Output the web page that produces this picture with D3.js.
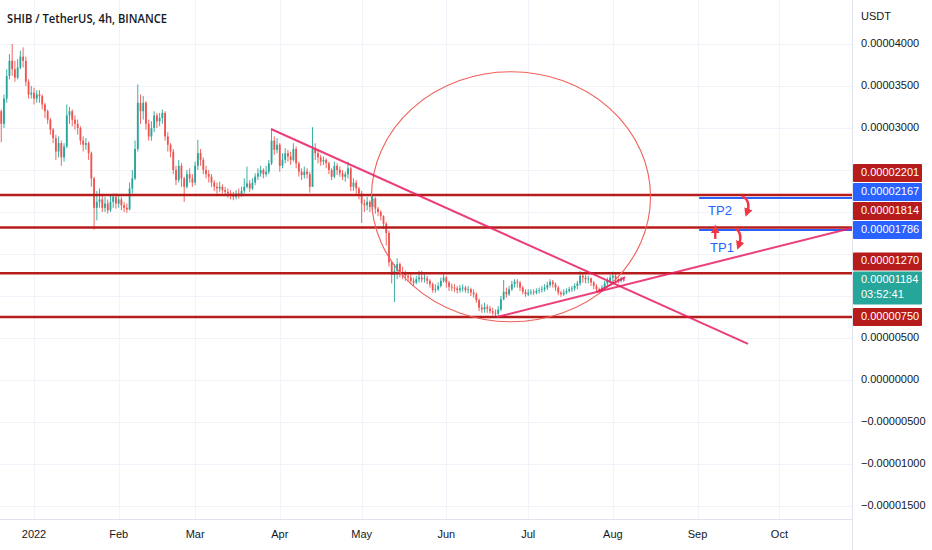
<!DOCTYPE html>
<html lang="en">
<head>
<meta charset="UTF-8">
<title>SHIB / TetherUS, 4h, BINANCE</title>
<script src="https://d3js.org/d3.v7.min.js"></script>
<style>
  body { margin: 0; background: #fff; }
  svg text { font-family: "Liberation Sans", Arial, sans-serif; }
  .title { font-family: "Open Sans", sans-serif; font-size: 13px; font-weight: 600; fill: #131722; }
</style>
</head>
<body>
<div id="chart"></div>
<script>
// daily candles, prices in units of 1e-5 USDT, first candle is 2021-12-19
const UNIT = 1e-5;
const firstDay = "2021-12-19";
const firstOpen = 3.15;
const closes = [
  3.20,3.05,3.35,3.62,3.80,3.70,3.60,3.72,3.85,3.80,
  3.55,3.40,3.42,3.35,3.40,3.38,3.28,3.20,3.10,2.98,
  2.88,2.72,2.82,2.65,2.78,3.15,3.20,3.10,3.05,3.00,
  2.85,2.80,2.82,2.70,2.40,2.05,2.12,2.15,2.05,2.10,
  2.02,2.12,2.18,2.10,2.15,2.08,2.05,2.03,2.28,2.40,
  2.75,3.30,3.20,3.30,3.05,2.90,3.00,3.15,3.08,3.12,
  3.18,2.90,2.80,2.72,2.50,2.38,2.55,2.40,2.30,2.45,
  2.40,2.35,2.55,2.70,2.62,2.50,2.45,2.42,2.35,2.30,
  2.28,2.30,2.26,2.24,2.22,2.20,2.18,2.22,2.20,2.25,
  2.30,2.34,2.28,2.35,2.42,2.46,2.50,2.45,2.48,2.58,
  2.85,2.74,2.80,2.55,2.62,2.70,2.66,2.62,2.75,2.58,
  2.48,2.44,2.48,2.45,2.30,2.75,2.70,2.65,2.60,2.62,
  2.58,2.50,2.42,2.55,2.50,2.46,2.42,2.45,2.52,2.30,
  2.35,2.28,2.22,2.10,2.08,2.12,2.06,2.16,2.04,2.00,
  1.95,1.86,1.75,1.40,1.25,1.30,1.38,1.28,1.27,1.24,
  1.22,1.18,1.16,1.20,1.22,1.20,1.21,1.18,1.14,1.07,
  1.08,1.12,1.18,1.22,1.16,1.11,1.10,1.09,1.07,1.09,
  1.10,1.07,1.08,1.04,1.02,0.95,0.86,0.84,0.87,0.85,
  0.82,0.80,0.79,0.84,0.96,1.05,1.02,1.08,1.14,1.17,
  1.16,1.10,1.05,1.02,1.04,1.05,1.04,1.06,1.07,1.08,
  1.10,1.13,1.17,1.14,1.10,1.04,1.02,1.04,1.06,1.08,
  1.09,1.12,1.15,1.24,1.22,1.20,1.21,1.16,1.12,1.08,
  1.06,1.10,1.15,1.18,1.22,1.24,1.20,1.18,1.20,1.184
];
const highs = [
  3.28,3.22,3.40,3.70,3.88,4.00,3.80,3.82,3.92,3.96,
  3.85,3.58,3.50,3.48,3.45,3.45,3.40,3.30,3.22,3.12,
  3.00,2.92,2.90,2.85,2.82,3.28,3.25,3.22,3.15,3.10,
  3.02,2.90,2.88,2.84,2.72,2.42,2.25,2.28,2.20,2.18,
  2.15,2.20,2.22,2.22,2.20,2.18,2.12,2.10,2.35,2.50,
  2.85,3.52,3.40,3.38,3.32,3.10,3.08,3.20,3.18,3.18,
  3.22,3.20,2.95,2.82,2.75,2.55,2.62,2.58,2.42,2.50,
  2.52,2.45,2.60,2.86,2.75,2.65,2.55,2.50,2.45,2.38,
  2.35,2.36,2.33,2.30,2.28,2.26,2.24,2.26,2.28,2.30,
  2.40,2.54,2.38,2.40,2.46,2.52,2.55,2.52,2.55,2.62,
  2.98,2.90,2.88,2.82,2.70,2.76,2.74,2.72,2.82,2.78,
  2.60,2.52,2.54,2.52,2.48,3.01,2.82,2.74,2.68,2.66,
  2.64,2.60,2.52,2.60,2.58,2.54,2.50,2.48,2.60,2.54,
  2.40,2.38,2.30,2.25,2.15,2.18,2.14,2.20,2.18,2.06,
  2.02,1.96,1.88,1.78,1.42,1.38,1.45,1.40,1.35,1.30,
  1.28,1.26,1.22,1.24,1.30,1.30,1.26,1.24,1.20,1.16,
  1.14,1.16,1.22,1.26,1.24,1.18,1.15,1.14,1.12,1.13,
  1.14,1.12,1.12,1.10,1.08,1.04,0.97,0.90,0.92,0.90,
  0.88,0.86,0.84,0.88,1.00,1.19,1.10,1.12,1.18,1.20,
  1.20,1.18,1.12,1.08,1.08,1.08,1.08,1.09,1.10,1.12,
  1.14,1.17,1.20,1.19,1.16,1.12,1.06,1.08,1.09,1.11,
  1.12,1.15,1.18,1.30,1.28,1.25,1.24,1.22,1.18,1.14,
  1.10,1.13,1.18,1.22,1.25,1.29,1.27,1.22,1.23,1.22
];
const lows = [
  3.05,2.83,3.00,3.30,3.58,3.62,3.55,3.58,3.70,3.72,
  3.50,3.35,3.35,3.28,3.30,3.30,3.22,3.12,3.05,2.92,
  2.82,2.62,2.65,2.55,2.60,2.76,3.05,3.02,2.98,2.92,
  2.80,2.72,2.74,2.62,2.30,1.79,1.90,2.05,2.00,2.00,
  1.98,2.00,2.05,2.04,2.05,2.02,2.00,1.99,2.02,2.22,
  2.38,2.72,3.05,3.10,2.98,2.85,2.85,2.95,3.00,3.02,
  3.05,2.85,2.72,2.65,2.45,2.32,2.35,2.30,2.12,2.28,
  2.35,2.30,2.32,2.50,2.55,2.45,2.40,2.35,2.30,2.25,
  2.22,2.24,2.22,2.19,2.17,2.15,2.14,2.15,2.16,2.18,
  2.22,2.28,2.24,2.26,2.32,2.38,2.42,2.40,2.42,2.45,
  2.56,2.68,2.70,2.48,2.52,2.58,2.60,2.56,2.60,2.52,
  2.42,2.38,2.40,2.40,2.23,2.30,2.62,2.58,2.55,2.56,
  2.52,2.45,2.38,2.40,2.44,2.42,2.38,2.36,2.40,2.25,
  2.25,2.22,2.15,1.87,2.00,2.02,2.00,2.02,1.98,1.95,
  1.90,1.80,1.60,1.35,1.15,0.93,1.20,1.22,1.20,1.18,
  1.17,1.14,1.12,1.14,1.16,1.16,1.16,1.14,1.10,1.04,
  1.04,1.06,1.10,1.16,1.10,1.06,1.06,1.05,1.03,1.04,
  1.05,1.04,1.03,1.00,0.98,0.92,0.82,0.80,0.80,0.80,
  0.79,0.77,0.76,0.77,0.82,0.95,0.98,1.00,1.06,1.10,
  1.10,1.06,1.02,0.99,1.00,1.01,1.01,1.02,1.03,1.04,
  1.05,1.07,1.10,1.10,1.06,1.01,0.99,1.00,1.02,1.04,
  1.05,1.06,1.08,1.12,1.16,1.15,1.15,1.12,1.08,1.05,
  1.04,1.05,1.08,1.12,1.15,1.17,1.16,1.15,1.16,1.17
];

// horizontal levels
const redLevels = [2.201, 1.814, 1.270, 0.750];
const blueLevels = [2.167, 1.786];
const blueStart = "2022-09-01T14:00Z";
const lastPrice = 1.184;
const countdown = "03:52:41";

// axis ticks
const priceTicks = [4, 3.5, 3, 2.5, 2, 1.5, 1, 0.5, 0, -0.5, -1, -1.5];
const monthTicks = ["2022-01-01","2022-02-01","2022-03-01","2022-04-01","2022-05-01",
  "2022-06-01","2022-07-01","2022-08-01","2022-09-01","2022-10-01"];
const monthLabels = ["2022","Feb","Mar","Apr","May","Jun","Jul","Aug","Sep","Oct"];

// drawings (date, price)
const trendLines = [
  [["2022-03-28T19:00Z", 2.988], ["2022-09-19T12:00Z", 0.429]],
  [["2022-06-19T14:00Z", 0.750], ["2022-10-27T14:00Z", 1.810]],
  [["2022-07-26T05:00Z", 1.048], ["2022-08-05T12:00Z", 1.226]]
];
const ellipseBox = { left: "2022-05-04T14:00Z", right: "2022-08-14T19:00Z", top: 3.67, bottom: 0.694 };
const tpNotes = [["TP2", "2022-09-04T21:00Z", 1.96], ["TP1", "2022-09-05T14:00Z", 1.52]];
const curvedArrows = [
  [["2022-09-17T07:00Z", 2.19], ["2022-09-19T05:00Z", 2.00]],
  [["2022-09-14T19:00Z", 1.81], ["2022-09-16T05:00Z", 1.61]]
];
const upArrow = [["2022-09-07T12:00Z", 1.68], ["2022-09-07T12:00Z", 1.79]];

const W = 932, H = 550, plotW = 852, plotH = 519;
const fmt = v => d3.format(".8f")(v * UNIT).replace("-", "\u2212");

const x = d3.scaleUtc()
  .domain([new Date("2021-12-19T13:00Z"), new Date("2022-10-27T14:00Z")])
  .range([0, plotW]);
const y = d3.scaleLinear().domain([-1.655, 4.524]).range([plotH, 0]);

const t0 = new Date(firstDay + "T00:00Z");
const candles = closes.map((c, i) => ({
  date: d3.utcDay.offset(t0, i),
  o: i === 0 ? firstOpen : closes[i - 1],
  c: c, h: highs[i], l: lows[i]
}));

const svg = d3.select("#chart").append("svg")
  .attr("width", W).attr("height", H)
  .style("display", "block").style("background", "#fff");
const defs = svg.append("defs");

defs.append("clipPath").attr("id", "plot")
  .append("rect").attr("width", plotW).attr("height", plotH);

// grid
const grid = svg.append("g").attr("stroke", "#f0f3fa").attr("stroke-width", 1);
grid.selectAll("line.h").data(priceTicks).enter().append("line")
  .attr("x1", 0).attr("x2", plotW)
  .attr("y1", d => Math.round(y(d)) + 0.5).attr("y2", d => Math.round(y(d)) + 0.5);
grid.selectAll("line.v").data(monthTicks).enter().append("line")
  .attr("y1", 0).attr("y2", plotH)
  .attr("x1", d => Math.round(x(new Date(d))) + 0.5).attr("x2", d => Math.round(x(new Date(d))) + 0.5);

const plot = svg.append("g").attr("clip-path", "url(#plot)");

// candles
const up = "#26a69a", down = "#ef5350";
const cg = plot.append("g");
cg.selectAll("line").data(candles).enter().append("line")
  .attr("x1", d => x(d.date)).attr("x2", d => x(d.date))
  .attr("y1", d => y(Math.max(d.h, d.o, d.c))).attr("y2", d => y(Math.min(d.l, d.o, d.c)))
  .attr("stroke", d => d.c >= d.o ? up : down).attr("stroke-width", 0.9);
cg.selectAll("rect").data(candles).enter().append("rect")
  .attr("x", d => x(d.date) - 0.9).attr("width", 1.8)
  .attr("y", d => y(Math.max(d.o, d.c)))
  .attr("height", d => Math.max(0.8, Math.abs(y(d.o) - y(d.c))))
  .attr("fill", d => d.c >= d.o ? up : down);

// horizontal levels
plot.selectAll("line.red").data(redLevels).enter().append("line")
  .attr("x1", 0).attr("x2", plotW)
  .attr("y1", d => y(d)).attr("y2", d => y(d))
  .attr("stroke", "#b71c1c").attr("stroke-width", 2.5);
plot.selectAll("line.blue").data(blueLevels).enter().append("line")
  .attr("x1", x(new Date(blueStart))).attr("x2", plotW)
  .attr("y1", d => y(d)).attr("y2", d => y(d))
  .attr("stroke", "#2962ff").attr("stroke-width", 2);

// ellipse
const ex1 = x(new Date(ellipseBox.left)), ex2 = x(new Date(ellipseBox.right));
const ey1 = y(ellipseBox.top), ey2 = y(ellipseBox.bottom);
plot.append("ellipse")
  .attr("cx", (ex1 + ex2) / 2).attr("cy", (ey1 + ey2) / 2)
  .attr("rx", (ex2 - ex1) / 2).attr("ry", (ey2 - ey1) / 2)
  .attr("fill", "none").attr("stroke", "#f0605a").attr("stroke-width", 1.1);

// trend lines
plot.selectAll("line.trend").data(trendLines).enter().append("line")
  .attr("x1", d => x(new Date(d[0][0]))).attr("y1", d => y(d[0][1]))
  .attr("x2", d => x(new Date(d[1][0]))).attr("y2", d => y(d[1][1]))
  .attr("stroke", "#e91e63").attr("stroke-width", 2).attr("opacity", 0.85);

// TP notes and arrows
plot.selectAll("text.tp").data(tpNotes).enter().append("text")
  .attr("x", d => x(new Date(d[1]))).attr("y", d => y(d[2]))
  .attr("fill", "#2962ff").attr("font-size", 13).text(d => d[0]);

defs.append("marker")
  .attr("id", "head").attr("viewBox", "0 0 10 10").attr("refX", 4).attr("refY", 5)
  .attr("markerWidth", 3.6).attr("markerHeight", 3.6).attr("orient", "auto")
  .append("path").attr("d", "M0,0 L10,5 L0,10 z").attr("fill", "#f23645");

plot.selectAll("path.arr").data(curvedArrows).enter().append("path")
  .attr("d", d => {
    const a = [x(new Date(d[0][0])), y(d[0][1])], b = [x(new Date(d[1][0])), y(d[1][1])];
    const cx = Math.max(a[0], b[0]) + 4, cy = (a[1] + b[1]) / 2 - 3;
    return `M${a[0]},${a[1]} Q${cx},${cy} ${b[0]},${b[1]}`;
  })
  .attr("fill", "none").attr("stroke", "#f23645").attr("stroke-width", 2.4)
  .attr("marker-end", "url(#head)");
plot.append("line")
  .attr("x1", x(new Date(upArrow[0][0]))).attr("y1", y(upArrow[0][1]))
  .attr("x2", x(new Date(upArrow[1][0]))).attr("y2", y(upArrow[1][1]))
  .attr("stroke", "#f23645").attr("stroke-width", 2.4).attr("marker-end", "url(#head)");

// title
svg.append("text").attr("class", "title").attr("x", 7).attr("y", 23)
  .attr("textLength", 160).attr("lengthAdjust", "spacingAndGlyphs")
  .text("SHIB / TetherUS, 4h, BINANCE");

// axes frame
svg.append("line").attr("x1", plotW + 0.5).attr("x2", plotW + 0.5).attr("y1", 0).attr("y2", H)
  .attr("stroke", "#e0e3eb");
svg.append("line").attr("x1", 0).attr("x2", plotW).attr("y1", plotH + 0.5).attr("y2", plotH + 0.5)
  .attr("stroke", "#e0e3eb");

// price labels on the axis, pushed upward so they never overlap
const tags = [
  ...redLevels.map(v => ({ v, bg: "#b71c1c", lines: [fmt(v)] })),
  ...blueLevels.map(v => ({ v, bg: "#2962ff", lines: [fmt(v)] })),
  { v: lastPrice, bg: "#26a69a", lines: [fmt(lastPrice), countdown] }
].sort((a, b) => a.v - b.v);
const rowH = 18, gap = 1;
let limit = Infinity;
tags.forEach(t => {
  t.h = rowH + (t.lines.length - 1) * 15;
  let top = y(t.v) - rowH / 2;
  if (top + t.h > limit - gap) top = limit - gap - t.h;
  t.top = top;
  limit = top;
});

// right price axis: tick labels under a tag are hidden, partly covered ones are cut
const ax = svg.append("g").attr("font-size", 11).attr("fill", "#131722");
ax.append("text").attr("x", 861).attr("y", 17).attr("dominant-baseline", "middle").text("USDT");
const tickRows = priceTicks.map(v => {
  const ty = y(v), t1 = ty - 6, t2 = ty + 6;
  const hit = tags.find(t => t2 > t.top && t1 < t.top + t.h);
  return { v, ty, hit, visible: !hit || (ty < hit.top && ty - 6 < hit.top - 3) };
}).filter(d => d.visible);
tickRows.forEach((d, i) => {
  if (d.hit) {
    defs.append("clipPath").attr("id", "tc" + i).append("rect")
      .attr("x", plotW).attr("y", 0).attr("width", W - plotW).attr("height", d.hit.top);
  }
  ax.append("text").attr("x", 861).attr("y", d.ty).attr("dominant-baseline", "middle")
    .attr("clip-path", d.hit ? `url(#tc${i})` : null).text(fmt(d.v));
});

const tg = svg.append("g").selectAll("g").data(tags).enter().append("g");
tg.append("rect").attr("x", plotW + 1).attr("width", 69).attr("y", d => d.top).attr("height", d => d.h)
  .attr("fill", d => d.bg).attr("rx", 1);
tg.each(function (d) {
  d3.select(this).selectAll("text").data(d.lines).enter().append("text")
    .attr("x", 861).attr("y", (s, i) => d.top + rowH / 2 + i * 15)
    .attr("dominant-baseline", "middle").attr("font-size", 11).attr("fill", "#fff")
    .text(s => s);
});

// bottom time axis
svg.append("g").attr("font-size", 11).attr("fill", "#131722").attr("text-anchor", "middle")
  .selectAll("text").data(monthTicks).enter().append("text")
  .attr("x", d => x(new Date(d))).attr("y", 535).attr("dominant-baseline", "middle")
  .text((d, i) => monthLabels[i]);
</script>
</body>
</html>
